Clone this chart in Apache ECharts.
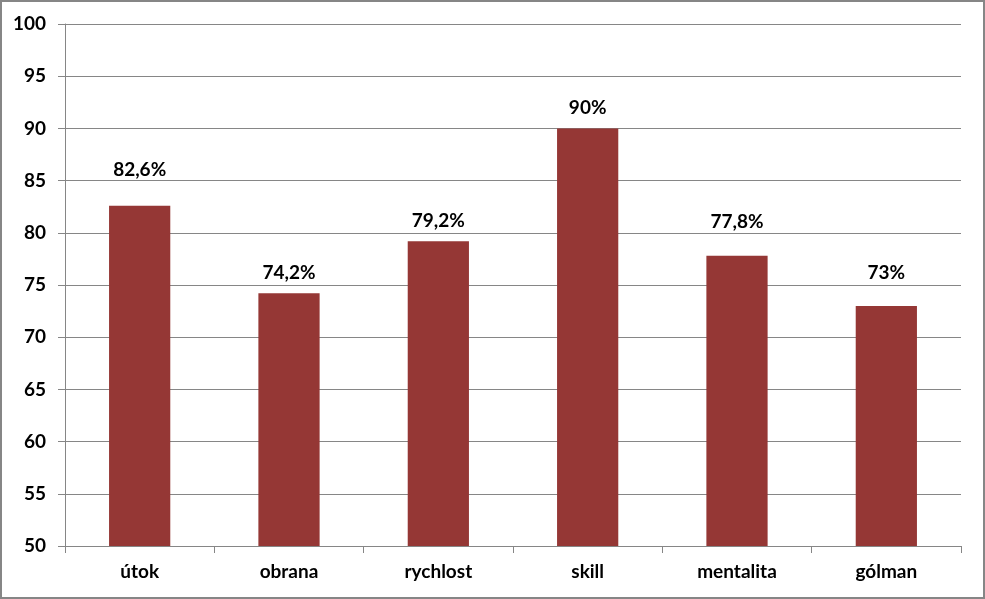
<!DOCTYPE html>
<html><head><meta charset="utf-8">
<script src="https://cdn.jsdelivr.net/npm/echarts@6/dist/echarts.min.js"></script>
<style>html,body{margin:0;padding:0;background:#fff}#c{width:985px;height:599px}</style>
</head><body><div id="c"></div>
<script>
const categories = ['útok','obrana','rychlost','skill','mentalita','gólman'];
const values = [82.6, 74.2, 79.2, 90, 77.8, 73];
const yMin = 50, yMax = 100, yStep = 5;

// label gap above each bar (style, as placed in the original)
const labelGap = [26, 11, 11, 11, 24, 24];

const chart = echarts.init(document.getElementById('c'));
const font = 'Lato, "Open Sans", sans-serif';
chart.setOption({
  animation: false,
  backgroundColor: '#fff',
  graphic: [{type:'rect', shape:{x:1,y:1,width:983,height:597}, style:{fill:'none', stroke:'#868686', lineWidth:2}, silent:true}],
  grid: {left:65, right:24, top:24, bottom:53},
  xAxis: {
    type:'category', data: categories,
    axisLine:{lineStyle:{color:'#868686', width:1}},
    axisTick:{show:true, length:7, lineStyle:{color:'#868686'}, alignWithLabel:false},
    axisLabel:{color:'#000', fontWeight:'bold', fontSize:19, fontFamily:font, margin:16}
  },
  yAxis: {
    type:'value', min:yMin, max:yMax, interval:yStep,
    axisLine:{show:true, lineStyle:{color:'#868686'}},
    axisTick:{show:true, length:7, lineStyle:{color:'#868686'}},
    splitLine:{lineStyle:{color:'#868686'}},
    axisLabel:{color:'#000', fontWeight:'bold', fontSize:19, fontFamily:font, margin:19}
  },
  series: [{
    type:'bar', barWidth: '41%',
    data: values.map((v, i) => ({value: v, label: {distance: labelGap[i]}})),
    itemStyle:{color:'#953735'},
    label:{show:true, position:'top', color:'#000', fontWeight:'bold', fontSize:19, fontFamily:font,
      formatter: p => String(p.value).replace('.', ',') + '%'}
  }]
});
</script></body></html>
